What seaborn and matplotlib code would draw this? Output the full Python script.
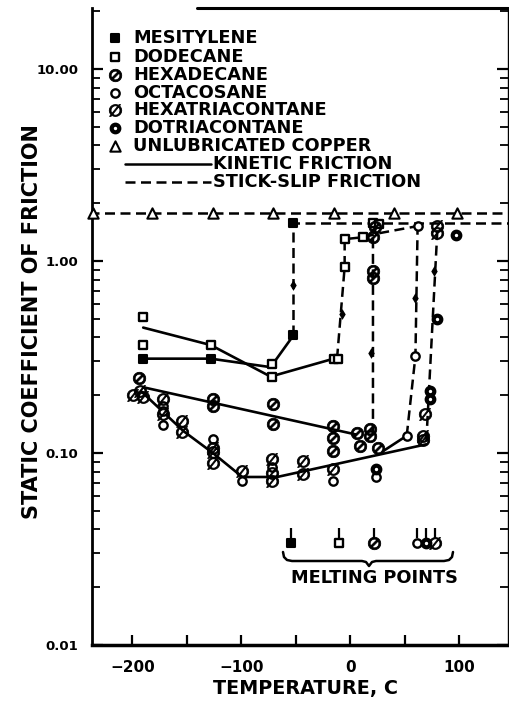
import numpy as np
import pandas as pd
import seaborn as sns
import matplotlib.pyplot as plt
from matplotlib.ticker import FixedLocator, FixedFormatter, NullFormatter
from matplotlib.lines import Line2D

sns.set_theme(style="white")
plt.rcParams['font.family'] = ['DejaVu Sans']
plt.rcParams['font.weight'] = 'bold'
plt.rcParams['text.color'] = 'black'
plt.rcParams['axes.labelcolor'] = 'black'
plt.rcParams['xtick.color'] = 'black'
plt.rcParams['ytick.color'] = 'black'

# ---------------- data ----------------
mesitylene_T = [-190, -128, -52, -52]
mesitylene_mu = [0.31, 0.31, 0.41, 1.58]

dodecane_T = [-190, -190, -128, -72, -72, -15, -11, -5, -5, 12, 21, 27]
dodecane_mu = [0.51, 0.365, 0.365, 0.29, 0.25, 0.31, 0.31, 0.93, 1.30, 1.33, 1.58, 1.56]

hexadecane_T = [-194, -126, -126, -71, -71, -16, -16, -16, 6, 9, 18, 18, 26, 21, 21, 21, 23]
hexadecane_mu = [0.245, 0.19, 0.175, 0.18, 0.141, 0.138, 0.12, 0.102, 0.127, 0.109,
                 0.133, 0.123, 0.106, 0.89, 0.82, 1.33, 1.50]

octacosane_T = [-172, -172, -172, -126, -99, -72, -16, 24, 52, 60, 62]
octacosane_mu = [0.175, 0.165, 0.14, 0.118, 0.0715, 0.085, 0.0715, 0.075, 0.123, 0.32, 1.52]

hexatriacontane_T = [-199, -193, -190, -172, -172, -154, -154, -126, -126, -126, -99,
                     -72, -72, -72, -43, -43, -16, 67, 67, 69, 80, 80]
hexatriacontane_mu = [0.20, 0.21, 0.195, 0.19, 0.16, 0.147, 0.128, 0.106, 0.101, 0.089,
                      0.081, 0.093, 0.079, 0.0715, 0.091, 0.078, 0.083, 0.123, 0.117,
                      0.159, 1.40, 1.52]

dotriacontane_T = [24, 73, 73, 80, 97]
dotriacontane_mu = [0.083, 0.21, 0.19, 0.50, 1.37]

copper_T = [-236, -182, -126, -71, -15, 40, 98]
copper_mu = [1.78, 1.78, 1.78, 1.78, 1.78, 1.78, 1.78]

# kinetic friction (solid lines)
kin_mesitylene_T = [-190, -128, -73, -52]
kin_mesitylene_mu = [0.31, 0.31, 0.28, 0.41]
kin_dodecane_T = [-190, -128, -73, -15]
kin_dodecane_mu = [0.45, 0.365, 0.25, 0.31]
kin_hexadecane_T = [-190, 5]
kin_hexadecane_mu = [0.22, 0.125]
kin_long_T = [-192, -153, -126, -99, -67, 70]
kin_long_mu = [0.21, 0.13, 0.10, 0.075, 0.075, 0.111]
kin_octacosane_T = [30, 52]
kin_octacosane_mu = [0.102, 0.123]

# stick-slip friction (dashed lines)
ss_copper_T = [-240, 150]
ss_copper_mu = [1.78, 1.78]
ss_mesitylene_T = [-52, -52, 150]
ss_mesitylene_mu = [0.41, 1.58, 1.58]
ss_dodecane_T = [-12, -5, -5, 12, 28, 62]
ss_dodecane_mu = [0.31, 0.93, 1.30, 1.33, 1.40, 1.52]
ss_hexadecane_T = [21, 21, 24]
ss_hexadecane_mu = [0.125, 1.33, 1.50]
ss_octacosane_T = [52, 60, 62]
ss_octacosane_mu = [0.123, 0.32, 1.52]
ss_hexatriacontane_T = [70, 80, 80]
ss_hexatriacontane_mu = [0.115, 1.40, 1.52]

# direction arrowheads on stick-slip lines
arrow_T = [-52, -7, 19, 60, 77]
arrow_mu = [0.75, 0.53, 0.33, 0.64, 0.89]

# melting points
melt_names = ["MESITYLENE", "DODECANE", "HEXADECANE", "OCTACOSANE", "DOTRIACONTANE", "HEXATRIACONTANE"]
melt_T = [-54, -10, 22, 61, 70, 78]
melt_mu = [0.034, 0.034, 0.034, 0.034, 0.034, 0.034]

legend_labels = ["MESITYLENE", "DODECANE", "HEXADECANE", "OCTACOSANE",
                 "HEXATRIACONTANE", "DOTRIACONTANE", "UNLUBRICATED COPPER"]
y_ticks = [0.01, 0.1, 1.0, 10.0]
y_ticklabels = ["0.01", "0.10", "1.00", "10.00"]
x_ticks = [-200, -100, 0, 100]
x_minor = [-150, -50, 50]

# ---------------- styles ----------------
styles = {
    "MESITYLENE": dict(marker='s', s=32, facecolor='black', edgecolor='black', linewidths=1.5),
    "DODECANE": dict(marker='s', s=40, facecolor='white', edgecolor='black', linewidths=1.7),
    "HEXADECANE": dict(marker=r'$\oslash$', s=80, facecolor='black', edgecolor='black', linewidths=0.6),
    "OCTACOSANE": dict(marker='o', s=36, facecolor='white', edgecolor='black', linewidths=1.7),
    "HEXATRIACONTANE": dict(marker=r'$\varnothing$', s=80, facecolor='black', edgecolor='black', linewidths=0.6),
    "DOTRIACONTANE": dict(marker='o', s=30, facecolor='white', edgecolor='black', linewidths=3.0),
    "UNLUBRICATED COPPER": dict(marker='^', s=55, facecolor='white', edgecolor='black', linewidths=1.5),
}

fig = plt.figure(figsize=(5.1, 7.08), dpi=100)
fig.patch.set_facecolor('white')
ax = fig.add_axes([92/510, (708-645)/708, (508-92)/510, (645-8)/708])
ax.set_facecolor('white')
ax.set_yscale('log')
ax.set_xlim(-237, 145)
ax.set_ylim(0.01, 10**((645-8)/192 - 2))

def line(T, mu, dashed=False):
    df = pd.DataFrame({"T": T, "mu": mu})
    kw = dict(color='black', lw=1.9, zorder=2)
    if dashed:
        kw['linestyle'] = (0, (4, 2.2))
        kw['lw'] = 1.8
    sns.lineplot(data=df, x="T", y="mu", ax=ax, estimator=None, sort=False, **kw)

for T, mu in [(kin_mesitylene_T, kin_mesitylene_mu), (kin_dodecane_T, kin_dodecane_mu),
              (kin_hexadecane_T, kin_hexadecane_mu), (kin_long_T, kin_long_mu),
              (kin_octacosane_T, kin_octacosane_mu)]:
    line(T, mu)
for T, mu in [(ss_copper_T, ss_copper_mu), (ss_mesitylene_T, ss_mesitylene_mu),
              (ss_dodecane_T, ss_dodecane_mu), (ss_hexadecane_T, ss_hexadecane_mu),
              (ss_octacosane_T, ss_octacosane_mu), (ss_hexatriacontane_T, ss_hexatriacontane_mu)]:
    line(T, mu, dashed=True)

series = {
    "MESITYLENE": (mesitylene_T, mesitylene_mu),
    "DODECANE": (dodecane_T, dodecane_mu),
    "HEXADECANE": (hexadecane_T, hexadecane_mu),
    "OCTACOSANE": (octacosane_T, octacosane_mu),
    "HEXATRIACONTANE": (hexatriacontane_T, hexatriacontane_mu),
    "DOTRIACONTANE": (dotriacontane_T, dotriacontane_mu),
    "UNLUBRICATED COPPER": (copper_T, copper_mu),
}
for name, (T, mu) in series.items():
    df = pd.DataFrame({"T": T, "mu": mu})
    sns.scatterplot(data=df, x="T", y="mu", ax=ax, zorder=4, clip_on=False, **styles[name])

# arrowheads
sns.scatterplot(x=arrow_T, y=arrow_mu, ax=ax, marker='d', s=30, color='black', zorder=3,
                linewidths=0)

# melting points
for name, T, mu in zip(melt_names, melt_T, melt_mu):
    sns.scatterplot(x=[T], y=[mu], ax=ax, zorder=4, **styles[name])
ax.vlines(melt_T, [m*1.06 for m in melt_mu], [m*1.2 for m in melt_mu], color='black', lw=1.6, zorder=3)

# brace under melting points (pixel geometry -> axes coords)
def ax_xy(px, py):
    return (px - 92) / 416, (645 - py) / 637

bx = [283, 284, 287, 292, 362, 366, 369, 372, 376, 444, 449, 452, 453]
by = [552, 557, 560, 561, 561, 562, 566, 562, 561, 561, 560, 557, 552]
pts = [ax_xy(a, b) for a, b in zip(bx, by)]
ax.plot([p[0] for p in pts], [p[1] for p in pts], transform=ax.transAxes, color='black', lw=1.8)
tx, ty = ax_xy(374, 578)
ax.text(tx, ty, "MELTING POINTS", transform=ax.transAxes, ha='center', va='center',
        fontsize=12.8, fontweight='bold', color='black')

# legend (manual, as in the original)
rows = [38, 57, 75, 93, 110, 128, 146, 164, 182]
for name, py in zip(legend_labels, rows[:7]):
    mx, my = ax_xy(115, py)
    st = dict(styles[name])
    ax.scatter([mx], [my], transform=ax.transAxes, zorder=5, clip_on=False, **st)
    lx, ly = ax_xy(133, py)
    ax.text(lx, ly, name, transform=ax.transAxes, ha='left', va='center',
            fontsize=12.8, fontweight='bold', color='black')
for py, label, ls in [(rows[7], "KINETIC FRICTION", '-'), (rows[8], "STICK-SLIP FRICTION", (0, (4, 2.2)))]:
    x0, y0 = ax_xy(125, py)
    x1, _ = ax_xy(211, py)
    ax.add_line(Line2D([x0, x1], [y0, y0], transform=ax.transAxes, color='black', lw=1.8, linestyle=ls))
    lx, _ = ax_xy(213, py)
    ax.text(lx, y0, label, transform=ax.transAxes, ha='left', va='center',
            fontsize=12.8, fontweight='bold', color='black')

# axes styling
ax.yaxis.set_major_locator(FixedLocator(y_ticks))
ax.yaxis.set_major_formatter(FixedFormatter(y_ticklabels))
minor = [m * d for d in [0.01, 0.1, 1, 10] for m in range(2, 10)]
ax.yaxis.set_minor_locator(FixedLocator(minor))
ax.yaxis.set_minor_formatter(NullFormatter())
ax.xaxis.set_major_locator(FixedLocator(x_ticks))
ax.xaxis.set_minor_locator(FixedLocator(x_minor))
ax.tick_params(axis='both', which='both', direction='in', color='black', labelcolor='black')
ax.tick_params(axis='y', which='major', length=8, width=1.6, left=True, right=True, pad=10, labelsize=9.5)
ax.tick_params(axis='y', which='minor', length=6, width=1.3, left=True, right=True)
ax.tick_params(axis='x', which='both', length=7, width=1.6, bottom=True, top=False, pad=11, labelsize=11)
for lab in ax.get_xticklabels() + ax.get_yticklabels():
    lab.set_fontweight('bold')

for side in ['left', 'bottom', 'right']:
    ax.spines[side].set_visible(True)
    ax.spines[side].set_color('black')
ax.spines['left'].set_linewidth(2.0)
ax.spines['bottom'].set_linewidth(2.5)
ax.spines['right'].set_linewidth(1.0)
ax.spines['top'].set_visible(False)
x0, _ = ax_xy(197, 0)
ax.add_line(Line2D([x0, 1.0], [1.0, 1.0], transform=ax.transAxes, color='black', lw=2.2, clip_on=False))

ax.set_xlabel("TEMPERATURE, C", fontsize=13.8, fontweight='bold', color='black')
ax.xaxis.set_label_coords((306 - 92) / 416, (645 - 679) / 637)
ax.set_ylabel("STATIC COEFFICIENT OF FRICTION", fontsize=15, fontweight='bold', color='black')
ax.yaxis.set_label_coords((42 - 92) / 416, (645 - 322) / 637)
ax.grid(False)

fig.savefig("out.png", dpi=100)
